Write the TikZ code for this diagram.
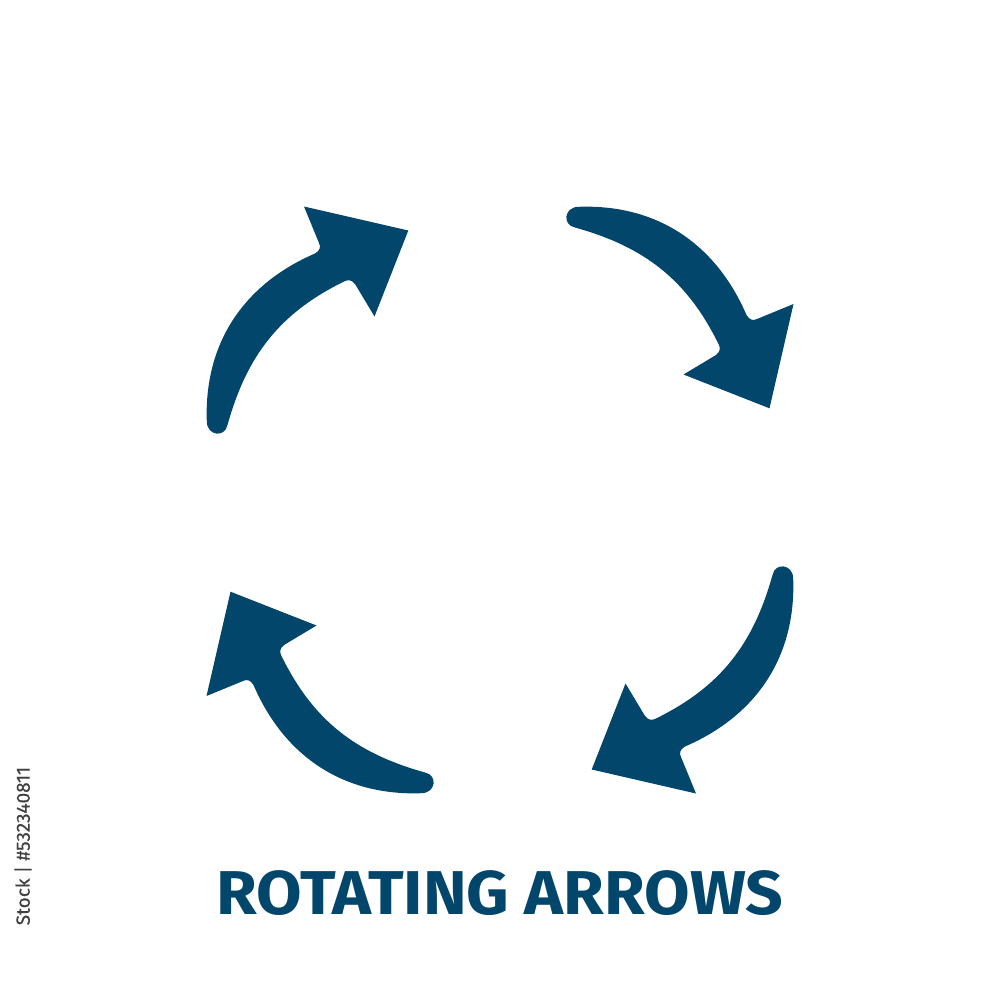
\documentclass[tikz,border=0pt]{standalone}
\usepackage{fontspec}
\setmainfont{Fira Sans}
\usepackage{tikz}
\definecolor{arrowblue}{HTML}{03466B}
\tikzset{every arrow/.style={fill=arrowblue},
	title text/.style={text=arrowblue,font=\fontsize{17.6pt}{20pt}\selectfont\bfseries\addfontfeatures{FakeStretch=1.066},inner sep=0pt},
	id text/.style={text=black!75,font=\fontsize{5.4pt}{7pt}\selectfont\addfontfeatures{FakeBold=0.4},inner sep=0pt,rotate=90}}
\begin{document}
\begin{tikzpicture}[x=0.01cm,y=-0.01cm]
	 \useasboundingbox (0,0) rectangle (1000,1000);
	 \foreach \ang in {0,90,180,270}
	 \fill[every arrow,rotate around={\ang:(500,500)}]
	 (304,206.5) -- (408.3,230.5) -- (374.5,316.5) -- (355,284)
	 .. controls (351.5,279.5) and (348,279.5) .. (344,281.5)
	 .. controls (280,313) and (247,355) .. (227.5,425)
	 .. controls (225,438) and (207,436) .. (206.8,421.5)
	 .. controls (204,345) and (242,285) .. (315,253.5)
	 .. controls (320,250.5) and (321,247) .. (319,243)
	 -- cycle;
	 \node[title text] (title) at (500,893) {ROTATING ARROWS};
	 \node[id text] (stockid) at (23,846) {Stock | \#532340811};
\end{tikzpicture}
\end{document}
